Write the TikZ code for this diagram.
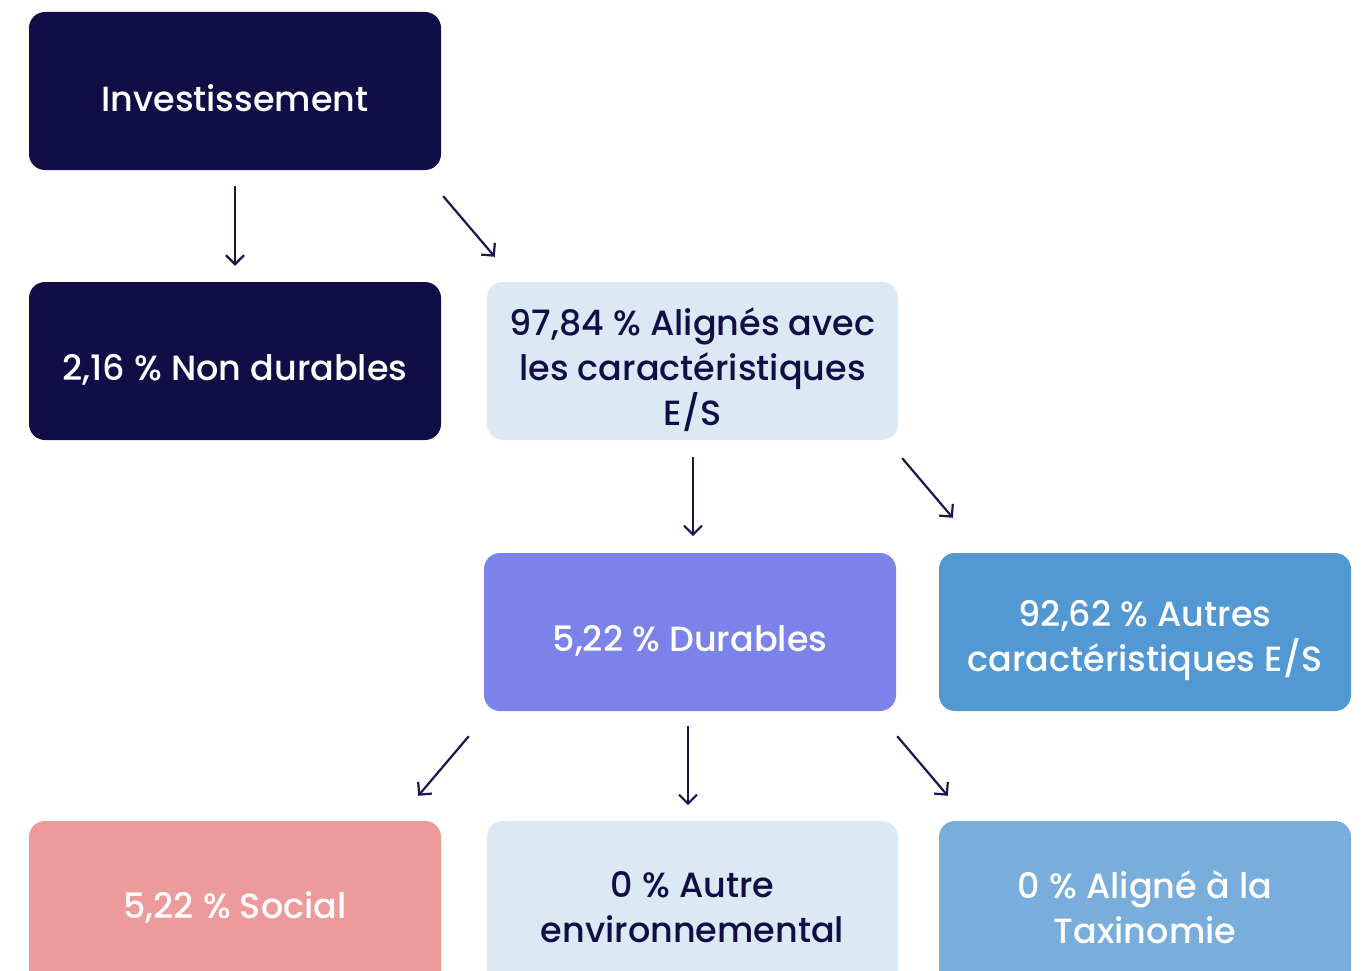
\documentclass[tikz,border=0pt]{standalone}
\usepackage{fontspec}
\setmainfont{Poppins Medium}
\usetikzlibrary{arrows.meta,calc}
\definecolor{navy}{HTML}{110E47}
\definecolor{pale}{HTML}{DAE9F3}
\definecolor{violet}{HTML}{7B83EB}
\definecolor{midblue}{HTML}{5299D3}
\definecolor{rose}{HTML}{EC9A9A}
\definecolor{softblue}{HTML}{79ADDC}
\definecolor{arrowc}{HTML}{1B1650}
\tikzset{
  box/.style={rounded corners=16pt, minimum width=412pt, minimum height=158pt, inner sep=0pt},
  tall/.style={minimum height=170pt},
  txt/.style={align=center, inner sep=0pt, text=#1, font=\fontsize{35}{45}\selectfont},
  arr/.style={draw=arrowc, line width=2.2pt, -{Straight Barb[length=9pt,width=18pt,line width=2.2pt]}}
}
\begin{document}
\begin{tikzpicture}[x=1pt,y=-1pt]
\useasboundingbox (0,0) rectangle (1367,971);
\clip (0,0) rectangle (1367,971);
\node[box, fill=navy, label={[txt=white, yshift=-7pt]center:Investissement}] (inv) at (235,91) {};
\node[box, fill=navy, label={[txt=white, yshift=-9pt]center:2,16 \% Non durables}] (nd) at (235,361) {};
\node[box, fill=pale, minimum width=411pt, label={[txt=navy, yshift=-9pt]center:97,84 \% Alignés avec\\les caractéristiques\\E/S}] (al) at (692.5,361) {};
\node[box, fill=violet, label={[txt=white, yshift=-9pt]center:5,22 \% Durables}] (dur) at (690,632) {};
\node[box, fill=midblue, label={[txt=white, yshift=-9pt]center:92,62 \% Autres\\caractéristiques E/S}] (aut) at (1145,632) {};
\node[box, tall, fill=rose, label={[txt=white, yshift=-1pt]center:5,22 \% Social}] (soc) at (235,906) {};
\node[box, tall, fill=pale, minimum width=411pt, label={[txt=navy, yshift=-1pt]center:0 \% Autre\\environnemental}] (env) at (692.5,906) {};
\node[box, tall, fill=softblue, label={[txt=white, yshift=-1pt]center:0 \% Aligné à la\\Taxinomie}] (tax) at (1145,906) {};
% connector end points
\coordinate (a1s) at ($(inv.south)+(0,16)$);
\coordinate (a1e) at ($(nd.north)+(0,-16)$);
\coordinate (a2s) at ($(inv.south east)+(2,26)$);
\coordinate (a2e) at ($(al.north west)+(8,-25)$);
\coordinate (a3s) at ($(al.south)+(0.5,17)$);
\coordinate (a3e) at ($(al.south)+(0.5,96)$);
\coordinate (a4s) at ($(al.south east)+(4,18)$);
\coordinate (a4e) at ($(aut.north west)+(14,-35)$);
\coordinate (a5s) at ($(dur.south west)+(-15,25)$);
\coordinate (a5e) at ($(soc.north east)+(-23,-25)$);
\coordinate (a6s) at ($(dur.south)+(-2,15)$);
\coordinate (a6e) at ($(dur.south)+(-2,94)$);
\coordinate (a7s) at ($(dur.south east)+(1,25)$);
\coordinate (a7e) at ($(tax.north west)+(9,-25)$);
\draw[arr] (a1s) -- (a1e);
\draw[arr] (a2s) -- (a2e);
\draw[arr] (a3s) -- (a3e);
\draw[arr] (a4s) -- (a4e);
\draw[arr] (a5s) -- (a5e);
\draw[arr] (a6s) -- (a6e);
\draw[arr] (a7s) -- (a7e);
\end{tikzpicture}
\end{document}
